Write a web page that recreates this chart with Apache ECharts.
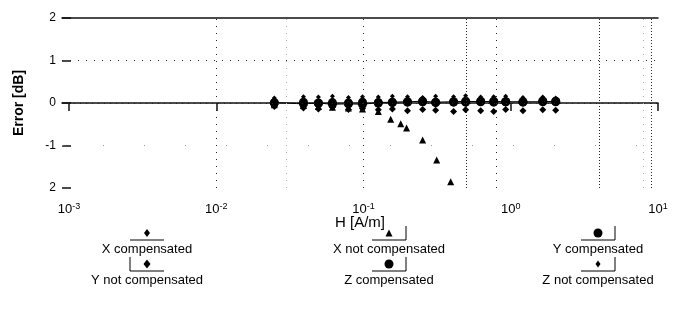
<!DOCTYPE html>
<html>
<head>
<meta charset="utf-8">
<script src="https://cdn.jsdelivr.net/npm/echarts@6/dist/echarts.min.js"></script>
<style>
html,body{margin:0;padding:0;background:#fff;}
#c{width:674px;height:320px;}
</style>
</head>
<body>
<div id="c"></div>
<script>
// ---- data ----
const xTicks = [0.001, 0.01, 0.1, 1, 10];
const xTickExp = ['-3', '-2', '-1', '0', '1'];
const yTicks = [2, 1, 0, -1, -2];
const yTickLabels = ['2', '1', '0', '-1', '2'];
const vGridH = [0.001, 0.003, 0.004, 0.01, 0.03, 0.1, 0.5, 0.8, 4, 8, 9];
const vGridDense = [false, false, true, false, false, false, true, false, true, false, true];
const vGridGray = [false, true, false, false, true, false, false, false, false, true, false];
const vGridSparse = [true, false, false, false, false, false, false, false, false, false, false];

const seriesNames = ['X compensated', 'X not compensated', 'Y compensated',
                     'Y not compensated', 'Z compensated', 'Z not compensated'];

const H = [0.0248, 0.0391, 0.0494, 0.0615, 0.079, 0.0984, 0.126, 0.157, 0.199, 0.252,
           0.309, 0.409, 0.494, 0.625, 0.766, 0.924, 1.21, 1.65, 2.02];
const xComp  = [0.03, 0.05, 0.03, 0.06, 0.04, 0.05, 0.03, 0.06, 0.05, 0.04, 0.06, 0.05, 0.08, 0.06, 0.07, 0.05, 0.06, 0.04, 0.05];
const yComp  = [0.01, -0.02, 0.0, -0.03, -0.02, -0.03, 0.01, 0.02, 0.03, 0.04, 0.02, 0.03, 0.04, 0.03, 0.04, 0.03, 0.03, 0.03, 0.04];
const yNot   = [-0.08, -0.12, -0.14, -0.1, -0.15, -0.13, -0.16, -0.14, -0.18, -0.15, -0.17, -0.2, -0.16, -0.18, -0.2, -0.15, -0.18, -0.16, -0.17];
const zComp  = [0.0, 0.02, -0.01, 0.01, 0.0, 0.02, 0.0, 0.01, 0.02, 0.03, 0.01, 0.02, 0.02, 0.04, 0.02, 0.03, 0.02, 0.05, 0.03];
const zNot   = [0.12, 0.15, 0.14, 0.16, 0.13, 0.15, 0.14, 0.16, 0.15, 0.13, 0.16, 0.15, 0.17, 0.14, 0.15, 0.16, 0.13, 0.14, 0.12];
const Hfall  = [0.0248, 0.0391, 0.0494, 0.0615, 0.079, 0.0984, 0.126, 0.153, 0.179, 0.196, 0.252, 0.314, 0.391];
const xNot   = [-0.04, -0.06, -0.08, -0.1, -0.12, -0.14, -0.2, -0.38, -0.49, -0.59, -0.87, -1.34, -1.85];

// ---- styles ----
const symbols = ['diamond', 'triangle', 'circle', 'diamond', 'circle', 'diamond'];
const sizes = [6, 7, 9, 7, 9, 5];

function pairs(xs, ys) { return xs.map((x, i) => [x, ys[i]]); }
const seriesData = [pairs(H, xComp), pairs(Hfall, xNot), pairs(H, yComp), pairs(H, yNot), pairs(H, zComp), pairs(H, zNot)];
const withLine = [false, false, true, false, false, false];

const chart = echarts.init(document.getElementById('c'), null, {renderer: 'canvas'});

const vLines = vGridH.map((h, i) => ({
  xAxis: h,
  lineStyle: {
    color: vGridGray[i] ? '#aaa' : '#222',
    width: 1,
    type: vGridSparse[i] ? [2, 19] : (vGridDense[i] ? [1, 2] : [1, 6])
  }
}));
const hLines = [
  {yAxis: 1, lineStyle: {color: '#222', width: 1, type: [1, 7]}},
  {yAxis: 0, lineStyle: {color: '#222', width: 1, type: [1, 5]}},
  {yAxis: -1, lineStyle: {color: '#999', width: 1, type: [1, 40]}}
];

const series = seriesNames.map((name, i) => ({
  name: name,
  type: 'line',
  data: seriesData[i],
  symbol: symbols[i],
  symbolSize: sizes[i],
  showSymbol: true,
  itemStyle: {color: '#000'},
  lineStyle: {color: '#000', width: withLine[i] ? 1 : 0, opacity: withLine[i] ? 1 : 0},
  z: 3,
  animation: false
}));
series.push({
  type: 'line',
  data: [],
  silent: true,
  markLine: {
    silent: true,
    symbol: 'none',
    label: {show: false},
    data: vLines.concat(hLines),
    animation: false
  },
  z: 1
});

const leftX = 62, rightX = 658;
const logMin = Math.pow(10, -3 - 7 / 147);

// legend graphics
const legCols = [147, 389, 598];
const legRows = [233, 264];
const bracket = [[null, 'right', 'right'], ['left', 'right', 'right']];
const graphics = [];
seriesNames.forEach((name, i) => {
  const row = i < 3 ? 0 : 1;
  const col = i % 3;
  const cx = legCols[col];
  const my = legRows[row];
  const s = sizes[i];
  if (symbols[i] === 'circle') {
    graphics.push({type: 'circle', shape: {cx: cx, cy: my, r: s / 2}, style: {fill: '#000'}});
  } else if (symbols[i] === 'diamond') {
    graphics.push({type: 'polygon', shape: {points: [[cx, my - s / 2 - 1], [cx + s / 2, my], [cx, my + s / 2 + 1], [cx - s / 2, my]]}, style: {fill: '#000'}});
  } else {
    graphics.push({type: 'polygon', shape: {points: [[cx, my - s / 2], [cx + s / 2, my + s / 2], [cx - s / 2, my + s / 2]]}, style: {fill: '#000'}});
  }
  graphics.push({type: 'line', shape: {x1: cx - 17, y1: my + 7, x2: cx + 17, y2: my + 7}, style: {stroke: '#000', lineWidth: 1}});
  const b = bracket[row][col];
  if (b) {
    const bx = b === 'left' ? cx - 17 : cx + 17;
    graphics.push({type: 'line', shape: {x1: bx, y1: my - 7, x2: bx, y2: my + 7}, style: {stroke: '#000', lineWidth: 1}});
  }
  graphics.push({type: 'text', x: cx, y: my + 16, style: {text: name, fill: '#000', font: '13px "Liberation Sans", Arial, sans-serif', align: 'center', verticalAlign: 'middle'}});
});

const option = {
  backgroundColor: '#fff',
  animation: false,
  grid: {left: leftX, right: 674 - rightX, top: 18, bottom: 132, containLabel: false},
  xAxis: [{
    type: 'log',
    logBase: 10,
    min: logMin,
    max: 10,
    name: 'H [A/m]',
    nameLocation: 'middle',
    nameGap: 27,
    nameMoveOverlap: false,
    nameTextStyle: {color: '#000', fontSize: 15, fontFamily: 'Liberation Sans', verticalAlign: 'top'},
    axisLine: {show: true, lineStyle: {color: '#111', width: 1.5}},
    axisTick: {show: true, customValues: xTicks, length: 8, lineStyle: {color: '#111', width: 1.5}},
    axisLabel: {
      customValues: xTicks,
      margin: 14,
      formatter: function (v) {
        const i = xTicks.findIndex(t => Math.abs(Math.log10(t) - Math.log10(v)) < 1e-6);
        return i < 0 ? '' : '{b|10}{s|' + xTickExp[i] + '}';
      },
      rich: {
        b: {fontSize: 13, color: '#000', fontFamily: 'Liberation Sans'},
        s: {fontSize: 9, color: '#000', fontFamily: 'Liberation Sans', verticalAlign: 'top', padding: [0, 0, 6, 0]}
      }
    },
    splitLine: {show: false}
  }, {
    type: 'log',
    logBase: 10,
    position: 'top',
    min: logMin,
    max: 10,
    axisLine: {show: true, lineStyle: {color: '#111', width: 1.5}},
    axisTick: {show: false},
    axisLabel: {show: false},
    splitLine: {show: false}
  }],
  yAxis: {
    type: 'value',
    min: -2,
    max: 2,
    interval: 1,
    name: 'Error [dB]',
    nameLocation: 'middle',
    nameGap: 36,
    nameRotate: 90,
    nameTextStyle: {color: '#000', fontSize: 14, fontWeight: 'bold', fontFamily: 'Liberation Sans'},
    axisLine: {show: false},
    axisTick: {show: true, inside: true, length: 9, lineStyle: {color: '#111', width: 1.5}},
    axisLabel: {
      color: '#000', fontSize: 12, fontFamily: 'Liberation Sans', margin: 6,
      formatter: function (v) {
        const i = yTicks.indexOf(v);
        return i < 0 ? '' : yTickLabels[i];
      }
    },
    splitLine: {show: false}
  },
  series: series,
  graphic: graphics
};
chart.setOption(option);
</script>
</body>
</html>
